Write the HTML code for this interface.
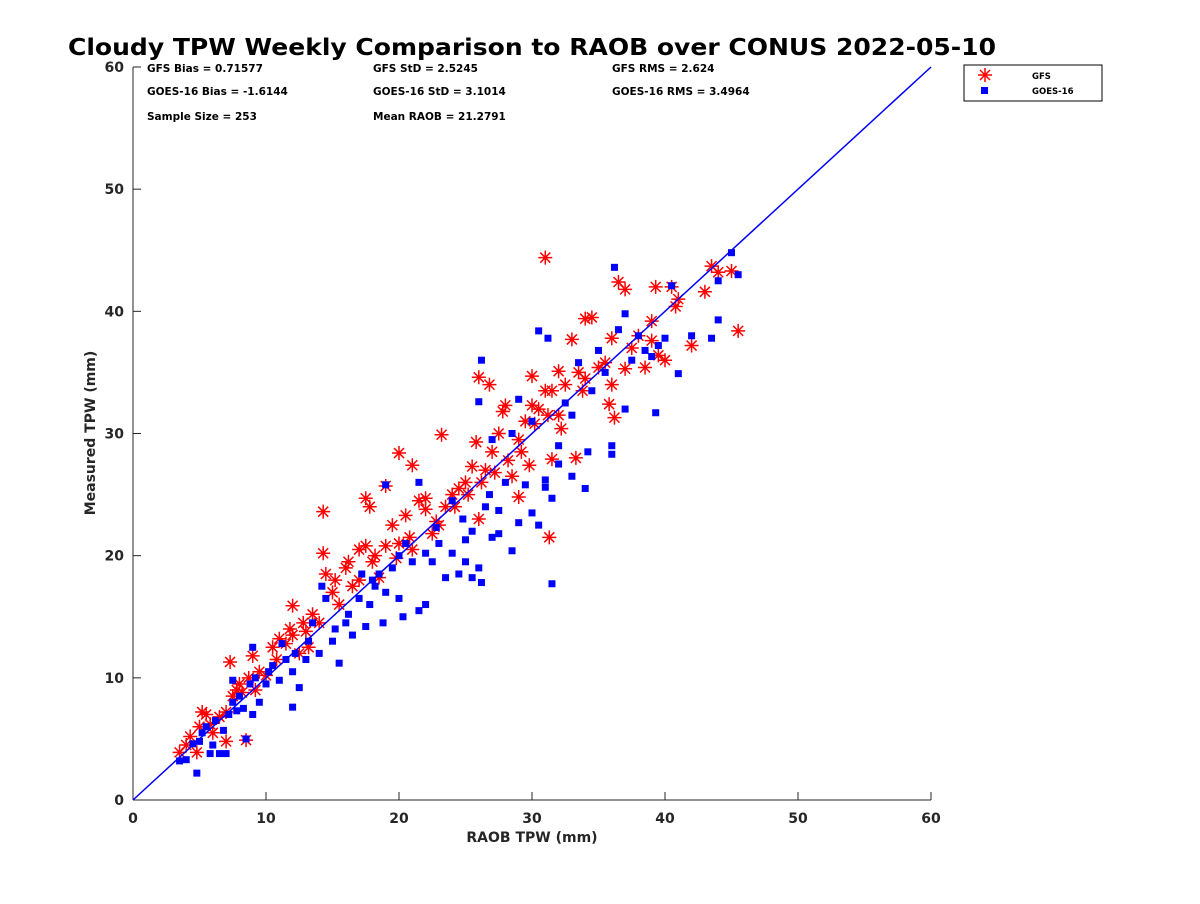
<!DOCTYPE html>
<html><head><meta charset="utf-8"><style>
body{margin:0;background:#fff;font-family:"DejaVu Sans",sans-serif}
svg text{font-family:"DejaVu Sans","Liberation Sans",sans-serif;font-weight:bold}
</style></head><body>
<svg id="chart" width="1200" height="900" xmlns="http://www.w3.org/2000/svg">
<rect width="1200" height="900" fill="#fff"/>
<text x="68" y="55" font-size="23" textLength="928" lengthAdjust="spacingAndGlyphs">Cloudy TPW Weekly Comparison to RAOB over CONUS 2022-05-10</text>
<g font-size="10.5">
<text x="147" y="72">GFS Bias = 0.71577</text>
<text x="373" y="72">GFS StD = 2.5245</text>
<text x="612" y="72">GFS RMS = 2.624</text>
<text x="147" y="95">GOES-16 Bias = -1.6144</text>
<text x="373" y="95">GOES-16 StD = 3.1014</text>
<text x="612" y="95">GOES-16 RMS = 3.4964</text>
<text x="147" y="120">Sample Size = 253</text>
<text x="373" y="120">Mean RAOB = 21.2791</text>
</g>
<g id="plot"></g>
<g>
<rect x="964" y="65" width="138" height="36" fill="#fff" stroke="#000" stroke-width="1"/>
<g stroke="#f00" stroke-width="1.5"><line x1="985" y1="68" x2="985" y2="82"/><line x1="978" y1="75" x2="992" y2="75"/><line x1="980" y1="70" x2="990" y2="80"/><line x1="980" y1="80" x2="990" y2="70"/></g>
<rect x="981" y="87" width="7" height="7" fill="#00f"/>
<text x="1032" y="79" font-size="8.5">GFS</text>
<text x="1032" y="94" font-size="8.5">GOES-16</text>
</g>
<text x="532" y="842" font-size="14" text-anchor="middle" fill="#262626">RAOB TPW (mm)</text>
<text transform="translate(95,433) rotate(-90)" font-size="14" text-anchor="middle" fill="#262626">Measured TPW (mm)</text>
</svg>
<script>
const xTicks=[0,10,20,30,40,50,60];
const yTicks=[0,10,20,30,40,50,60];
const gfsX=[3.5,4,4.3,4.8,5,5.2,5.5,5.8,6,6.5,7,7,7.3,7.5,7.8,8,8.2,8.5,8.7,9,9.2,9.5,10,10.5,11,11.5,12,12,12.5,13,13.5,14,14.3,14.3,14.5,15,15.5,16,16.5,17,17,17.5,17.5,17.8,18,18.5,19,19,19.5,20,20,20.5,21,21,21.5,22,22,22.5,23,23.2,23.5,24,24.5,25,25.5,25.8,26,26,26.5,26.8,27,27.5,28,28.5,29,29,29.5,30,30,30.5,31,31,31.3,31.5,31.5,32,32,32.5,33,33.3,33.5,34,34,34.5,35,35.5,35.8,36,36,36.2,36.5,37,37,37.5,38,38.5,39,39,39.3,39.5,40,40.5,40.8,41,42,43,43.5,44,45,45.5,10.8,11.8,12.8,13.2,15.2,16.2,18.2,19.8,20.8,22.8,24.2,25.2,26.2,27.2,28.2,29.2,30.2,31.2,32.2,33.8,27.8,29.8];
const gfsY=[3.9,4.5,5.2,3.9,6,7.2,7,6.2,5.5,6.8,4.8,7.2,11.3,8.5,9,9.5,8.8,4.9,10,11.8,9,10.5,10.2,12.5,13.2,12.8,15.9,13.5,12,13.8,15.2,14.5,23.6,20.2,18.5,17,16,19,17.5,20.5,18,24.7,20.8,24,19.5,18.2,20.8,25.7,22.5,28.4,21,23.3,27.4,20.5,24.5,24.7,23.8,21.8,22.5,29.9,24,25,25.5,26,27.3,29.3,34.6,23,27,34,28.5,30,32.3,26.5,29.5,24.8,31,32.3,34.7,32,33.5,44.4,21.5,27.9,33.5,31.5,35.1,34,37.7,28,35,34.5,39.4,39.5,35.4,35.8,32.4,37.8,34,31.3,42.4,41.8,35.3,37,38,35.4,39.2,37.6,42,36.4,36,42,40.4,41,37.2,41.6,43.7,43.2,43.3,38.4,11.5,14,14.5,12.5,18,19.5,20,19.8,21.5,22.8,24,25,26,26.8,27.8,28.5,30.8,31.5,30.4,33.5,31.8,27.4];
const goesX=[3.5,4,4.5,4.8,5,5.2,5.5,5.8,6,6.5,6.8,7,7.2,7.5,7.5,7.8,8,8.3,8.5,8.8,9,9,9.5,10,10.5,11,11.2,11.5,12,12,12.5,13,13.5,14,14.2,14.5,15,15.2,15.5,16,16.5,17,17.2,17.5,17.8,18,18.5,18.8,19,19,19.5,20,20,20.3,20.5,21,21.5,21.5,22,22,22.5,23,23.5,24,24,24.5,25,25,25.5,25.5,26,26,26.2,26.2,26.5,27,27,27.5,27.5,28,28.5,28.5,29,29,29.5,30,30,30.5,30.5,31,31,31.2,31.5,31.5,32,32,32.5,33,33,33.5,34,34.2,34.5,35,35.5,36,36,36.2,36.5,37,37,37.5,38,38.5,39,39.3,39.5,40,40.5,41,42,43.5,44,44,45,45.5,26.8,24.8,22.8,18.2,16.2,13.2,12.2,10.2,9.2,6.2];
const goesY=[3.2,3.3,4.6,2.2,4.8,5.5,6,3.8,4.5,3.8,5.7,3.8,7,9.8,8,7.3,8.5,7.5,5,9.5,12.5,7,8,9.5,11,9.8,12.8,11.5,7.6,10.5,9.2,11.5,14.5,12,17.5,16.5,13,14,11.2,14.5,13.5,16.5,18.5,14.2,16,18,18.5,14.5,17,25.8,19,16.5,20,15,21,19.5,15.5,26,16,20.2,19.5,21,18.2,20.2,24.5,18.5,21.3,19.5,18.2,22,19,32.6,36,17.8,24,21.5,29.5,23.7,21.8,26,20.4,30,32.8,22.7,25.8,23.5,31,22.5,38.4,26.2,25.6,37.8,24.7,17.7,27.5,29,32.5,31.5,26.5,35.8,25.5,28.5,33.5,36.8,35,28.3,29,43.6,38.5,39.8,32,36,38,36.8,36.3,31.7,37.2,37.8,42.1,34.9,38,37.8,39.3,42.5,44.8,43,25,23,22.3,17.5,15.2,13,12,10.5,10,6.5];
const X0=133,X1=931,Y0=800,Y1=67;
const sx=v=>X0+(X1-X0)*v/60, sy=v=>Y0-(Y0-Y1)*v/60;
const NS="http://www.w3.org/2000/svg", plot=document.getElementById('plot');
function mk(t,a,p){const e=document.createElementNS(NS,t);for(const k in a)e.setAttribute(k,a[k]);(p||plot).appendChild(e);return e;}
const ax=mk('g',{stroke:'#262626','stroke-width':1});


mk('line',{x1:X0,y1:Y0,x2:X1,y2:Y0},ax);mk('line',{x1:X0,y1:Y0,x2:X0,y2:Y1},ax);
xTicks.forEach(v=>{mk('line',{x1:sx(v),y1:Y0,x2:sx(v),y2:Y0-8},ax);
 const t=mk('text',{x:sx(v),y:Y0+23,'font-size':14,'text-anchor':'middle',fill:'#262626',stroke:'none'});t.textContent=v;
 
 });
yTicks.forEach(v=>{mk('line',{x1:X0,y1:sy(v),x2:X0+8,y2:sy(v)},ax);
 const t=mk('text',{x:X0-9,y:sy(v)+5,'font-size':14,'text-anchor':'end',fill:'#262626',stroke:'none'});t.textContent=v;
 
 });
const g1=mk('g',{stroke:'#f00','stroke-width':1.5});


gfsX.forEach((x,i)=>{const cx=sx(x),cy=sy(gfsY[i]),r=7,d=5;
 const p=mk('path',{d:`M${cx} ${cy-r}V${cy+r}M${cx-r} ${cy}H${cx+r}M${cx-d} ${cy-d}L${cx+d} ${cy+d}M${cx-d} ${cy+d}L${cx+d} ${cy-d}`},g1);
 
 });
const g2=mk('g',{fill:'#00f'});


goesX.forEach((x,i)=>{const r=mk('rect',{x:sx(x)-3.5,y:sy(goesY[i])-3.5,width:7,height:7},g2);
 
 });
const l=mk('line',{x1:sx(0),y1:sy(0),x2:sx(60),y2:sy(60),stroke:'#00f','stroke-width':1.5});


</script>
</body></html>
